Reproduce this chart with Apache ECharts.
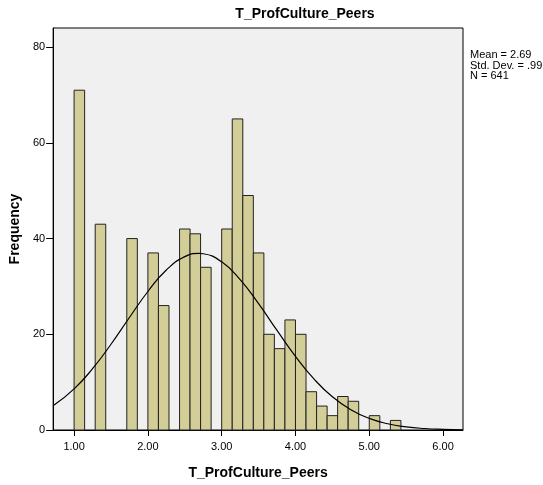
<!DOCTYPE html>
<html>
<head>
<meta charset="utf-8">
<script src="https://cdn.jsdelivr.net/npm/echarts@6/dist/echarts.min.js"></script>
<style>html,body{margin:0;padding:0;background:#fff}#c{width:543px;height:485px}</style>
</head>
<body>
<div id="c"></div>
<script>
var chartTitle = 'T_ProfCulture_Peers';
var xName = 'T_ProfCulture_Peers';
var yName = 'Frequency';
var statsLines = ['Mean = 2.69', 'Std. Dev. = .99', 'N = 641'];
var binWidth = 0.1429;
var binStarts = [1.000, 1.286, 1.714, 2.000, 2.143, 2.429, 2.571, 2.714, 3.000, 3.143, 3.286, 3.429, 3.571, 3.714, 3.857, 4.000, 4.143, 4.286, 4.429, 4.571, 4.714, 5.000, 5.286];
var counts = [71, 43, 40, 37, 26, 42, 41, 34, 42, 65, 49, 37, 20, 17, 23, 20, 8, 5, 3, 7, 6, 3, 2];
var curveX = [0.72, 1.00, 1.25, 1.50, 1.75, 2.00, 2.25, 2.50, 2.69, 2.75, 3.00, 3.25, 3.50, 3.75, 4.00, 4.25, 4.50, 4.75, 5.00, 5.25, 5.50, 5.75, 6.00, 6.27];
var curveY = [5.10, 8.59, 12.81, 17.92, 23.51, 28.94, 33.43, 36.23, 36.90, 36.83, 35.14, 31.44, 26.40, 20.80, 15.38, 10.67, 6.94, 4.24, 2.42, 1.30, 0.66, 0.31, 0.14, 0.05];
var xTicks = [1, 2, 3, 4, 5, 6];
var yTicks = [0, 20, 40, 60, 80];

var barData = binStarts.map(function (s, i) { return [s, s + binWidth, counts[i]]; });
var curveData = curveX.map(function (x, i) { return [x, curveY[i]]; });

var chart = echarts.init(document.getElementById('c'), null, {renderer: 'canvas'});
var font = '"Liberation Sans", Arial, sans-serif';
chart.setOption({
  animation: false,
  backgroundColor: '#ffffff',
  textStyle: {fontFamily: font},
  grid: {left: 52, right: 80, top: 28, bottom: 50, show: true, backgroundColor: '#F0F0F0', borderColor: '#000', borderWidth: 1, containLabel: false},
  xAxis: {
    type: 'value', min: 0.716, max: 6.27,
    name: xName, nameLocation: 'middle', nameGap: 36,
    nameTextStyle: {fontFamily: font, fontSize: 14, fontWeight: 'bold', color: '#000'},
    axisLine: {show: true, lineStyle: {color: '#000', width: 1}},
    axisTick: {show: true, length: 6, lineStyle: {color: '#000'}, customValues: xTicks},
    axisLabel: {color: '#000', fontSize: 11, fontFamily: font, margin: 11, customValues: xTicks, formatter: function (v) { return v.toFixed(2); }},
    splitLine: {show: false}
  },
  yAxis: {
    type: 'value', min: 0, max: 84,
    name: yName, nameLocation: 'middle', nameGap: 29,
    nameTextStyle: {fontFamily: font, fontSize: 14, fontWeight: 'bold', color: '#000'},
    axisLine: {show: true, lineStyle: {color: '#000', width: 1}},
    axisTick: {show: true, length: 7, lineStyle: {color: '#000'}, customValues: yTicks},
    axisLabel: {color: '#000', fontSize: 11, fontFamily: font, margin: 8, customValues: yTicks},
    splitLine: {show: false}
  },
  series: [
    {
      type: 'custom',
      data: barData,
      encode: {x: [0, 1], y: 2},
      renderItem: function (params, api) {
        var p0 = api.coord([api.value(0), api.value(2)]);
        var p1 = api.coord([api.value(1), 0]);
        return {
          type: 'rect',
          shape: {x: p0[0], y: p0[1], width: p1[0] - p0[0], height: p1[1] - p0[1]},
          style: {fill: '#D3CE97', stroke: '#222', lineWidth: 1}
        };
      }
    },
    {
      type: 'line',
      data: curveData,
      smooth: true,
      showSymbol: false,
      symbol: 'none',
      lineStyle: {color: '#000', width: 1.2}
    }
  ],
  graphic: [
    {type: 'text', x: 305, y: 7, style: {text: chartTitle, font: 'bold 14px ' + font, fill: '#000', align: 'center', textAlign: 'center'}},
    {type: 'text', x: 470, y: 50, style: {text: statsLines.join('\n'), font: '11px ' + font, lineHeight: 10.5, fill: '#000'}}
  ]
});
</script>
</body>
</html>
